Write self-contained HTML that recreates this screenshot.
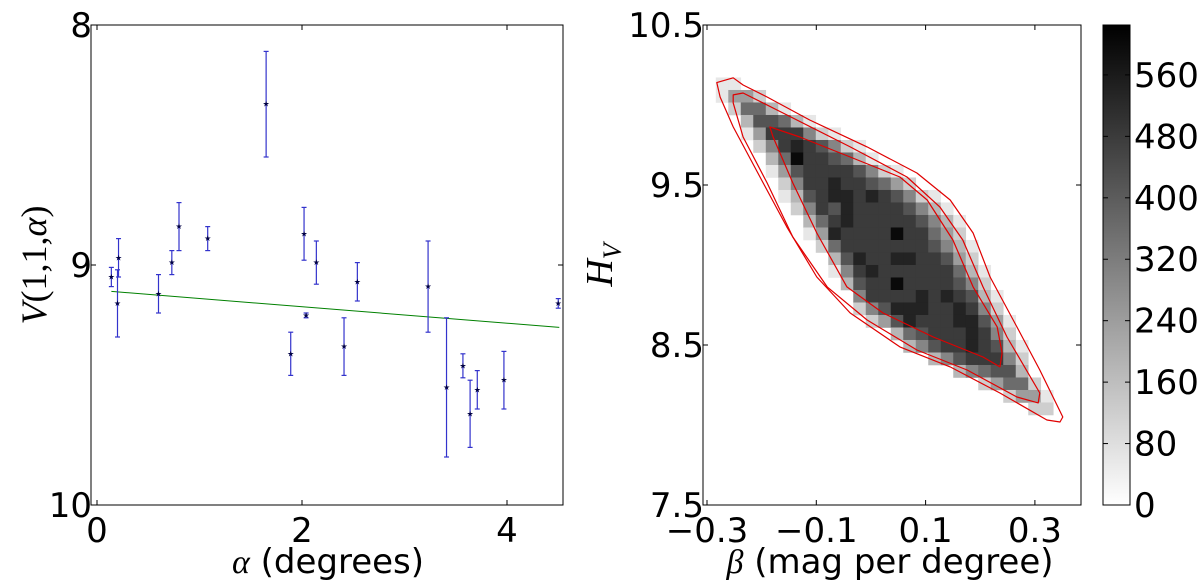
<!DOCTYPE html>
<html><head><meta charset="utf-8">
<style>
html,body{margin:0;padding:0;background:#fff;}
svg{display:block;font-family:"DejaVu Sans","Liberation Sans",sans-serif;}
</style></head>
<body>
<svg id="fig" width="1200" height="582" viewBox="0 0 1200 582" xmlns="http://www.w3.org/2000/svg"></svg>
<script>
// ---------- Left panel data ----------
const alphaVals = [0.14,0.21,0.20,0.60,0.73,0.80,1.08,1.65,1.89,2.02,2.04,2.14,2.41,2.54,3.23,3.41,3.57,3.64,3.71,3.97,4.50];
const vVals     = [9.05,8.97,9.16,9.12,8.99,8.84,8.89,8.33,9.37,8.87,9.21,8.99,9.34,9.07,9.09,9.51,9.42,9.62,9.52,9.48,9.16];
const vErrs     = [0.04,0.08,0.14,0.08,0.05,0.10,0.05,0.22,0.09,0.11,0.01,0.09,0.12,0.08,0.19,0.29,0.05,0.14,0.08,0.12,0.02];
const fitAlpha  = [0.14,4.51];
const fitV      = [9.11,9.26];
const leftXTicks = [0,2,4];
const leftYTicks = [8,9,10];

// ---------- Right panel data ----------
const betaTicks = [-0.3,-0.1,0.1,0.3];
const betaTickLabels = ["\u22120.3","\u22120.1","0.1","0.3"];
const hTicks = [10.5,9.5,8.5,7.5];
const hTickLabels = ["10.5","9.5","8.5","7.5"];
const cbTicks = [0,80,160,240,320,400,480,560];
const binBeta0 = -0.3068, binBetaStep = 0.02287;
const binH0 = 10.172, binHStep = 0.078125;
const rowStart = [1,1,2,3,3,4,5,5,6,6,7,8,8,9,10,10,11,12,12,13,15,16,18,20,22,24,26];
const rowCounts = [
[60,60],
[60,240,240,120],
[120,360,360,180,60],
[180,420,420,360,180,60],
[60,240,480,480,480,300,120,60],
[120,300,480,540,480,420,300,120,60],
[180,360,600,480,480,420,360,180,60],
[60,240,420,480,480,480,480,420,300,120,60],
[120,300,480,480,540,480,480,420,360,240,120],
[60,180,420,480,540,540,480,540,480,420,300,120,60],
[120,300,480,420,540,480,480,480,480,420,300,180,60],
[180,360,480,540,480,480,480,480,480,420,300,180,60],
[60,240,540,480,480,480,480,600,480,480,360,240,120],
[120,360,480,480,480,480,480,480,480,420,300,180,60],
[180,420,540,480,480,540,540,480,480,420,240,120],
[60,300,480,540,480,480,480,480,480,480,360,180,60],
[180,420,480,480,600,480,480,480,480,420,300,120],
[300,480,480,480,480,540,480,540,480,420,180,60],
[120,300,420,540,540,540,480,480,540,480,300,120],
[120,240,420,540,480,480,480,540,540,420,240,60],
[180,360,420,480,480,480,540,480,300,120],
[180,300,420,480,480,540,480,420,180,60],
[180,300,420,480,480,480,300,120],
[180,300,360,420,420,180],
[120,240,360,360,120],
[120,240,240,60],
[120,120]
];
const outerBeta = [-0.282,-0.252,-0.234,-0.190,-0.112,-0.007,0.084,0.145,0.187,0.218,0.267,0.309,0.351,0.346,0.322,0.236,0.145,0.053,-0.038,-0.099,-0.154,-0.203,-0.252,-0.276];
const outerH    = [10.14,10.17,10.125,10.05,9.906,9.738,9.575,9.406,9.2,8.925,8.613,8.344,8.05,8.019,8.031,8.2,8.363,8.488,8.7,8.925,9.238,9.55,9.863,10.05];
const midBeta = [-0.252,-0.234,-0.161,-0.038,0.066,0.126,0.168,0.205,0.249,0.309,0.306,0.267,0.176,0.084,-0.007,-0.080,-0.143,-0.190,-0.234,-0.252];
const midH    = [10.063,10.075,9.95,9.738,9.55,9.363,9.156,8.863,8.55,8.2,8.138,8.175,8.344,8.469,8.656,8.863,9.175,9.513,9.8,10.013];
const inBeta = [-0.185,-0.130,-0.038,0.053,0.103,0.150,0.187,0.231,0.240,0.236,0.205,0.114,0.022,-0.044,-0.099,-0.143,-0.179];
const inH    = [9.863,9.8,9.675,9.55,9.406,9.156,8.863,8.613,8.45,8.363,8.425,8.55,8.7,8.863,9.2,9.513,9.8];

const NS="http://www.w3.org/2000/svg";
const svg=document.getElementById('fig');
function mk(tag,attrs,parent){const e=document.createElementNS(NS,tag);for(const k in attrs)e.setAttribute(k,attrs[k]);(parent||svg).appendChild(e);return e;}
function txt(s,attrs,parent){const e=mk('text',attrs,parent);e.textContent=s;return e;}
const FS=34;

// ---------- Left axes ----------
const L={x0:91,x1:563,y0:25,y1:505};
const lx=a=>97+(a)*102.5;
const ly=v=>L.y0+(v-8)*(L.y1-L.y0)/2;
const gL=mk('g',{});


const fit=mk('line',{x1:lx(fitAlpha[0]),y1:ly(fitV[0]),x2:lx(fitAlpha[1]),y2:ly(fitV[1]),stroke:'#008000','stroke-width':1},gL);


for(let i=0;i<alphaVals.length;i++){
  const g=mk('g',{},gL);
  
  
  const x=lx(alphaVals[i]),yt=ly(vVals[i]-vErrs[i]),yb=ly(vVals[i]+vErrs[i]),y=ly(vVals[i]);
  mk('line',{x1:x,y1:yt,x2:x,y2:yb,stroke:'#3333cc','stroke-width':1.2},g);
  mk('line',{x1:x-2.5,y1:yt,x2:x+2.5,y2:yt,stroke:'#3333cc','stroke-width':1.2},g);
  mk('line',{x1:x-2.5,y1:yb,x2:x+2.5,y2:yb,stroke:'#3333cc','stroke-width':1.2},g);
  txt('\u2605',{x:x,y:y+2.5,'font-size':8,'text-anchor':'middle',fill:'#000044'},g);
}
const lb=mk('rect',{x:L.x0,y:L.y0,width:L.x1-L.x0,height:L.y1-L.y0,fill:'none',stroke:'#000','stroke-width':1},gL);


leftXTicks.forEach(t=>{const x=lx(t);
  mk('line',{x1:x,y1:L.y1,x2:x,y2:L.y1-5,stroke:'#000'},gL);
  mk('line',{x1:x,y1:L.y0,x2:x,y2:L.y0+5,stroke:'#000'},gL);
  const e=txt(String(t),{x:x,y:542,'font-size':FS,'text-anchor':'middle'},gL);
  
  
});
leftYTicks.forEach(t=>{const y=ly(t);
  mk('line',{x1:L.x0,y1:y,x2:L.x0+5,y2:y,stroke:'#000'},gL);
  mk('line',{x1:L.x1,y1:y,x2:L.x1-5,y2:y,stroke:'#000'},gL);
  const e=txt(String(t),{x:92,y:y+12,'font-size':FS,'text-anchor':'end'},gL);
  
  
});
const xl=txt('',{x:328,y:573,'font-size':FS,'text-anchor':'middle'},gL);
xl.innerHTML='<tspan font-family="Liberation Serif" font-style="italic">\u03B1</tspan> (degrees)';


const yl=txt('',{x:0,y:0,'font-size':36,'text-anchor':'middle',transform:'translate(46,265) rotate(-90)','font-family':'Liberation Serif'},gL);
yl.innerHTML='<tspan font-style="italic">V</tspan>(1,1,<tspan font-style="italic">\u03B1</tspan>)';



// ---------- Right axes ----------
const R={x0:703,x1:1081,y0:25,y1:505};
const rx=b=>707+(b+0.3)*546.5;
const ry=h=>25+(10.5-h)*160;
const gR=mk('g',{});


const gray=c=>{const v=Math.round(255*(1-Math.min(c,625)/625));return `rgb(${v},${v},${v})`;};
rowCounts.forEach((row,r)=>{
  row.forEach((c,j)=>{
    const col=rowStart[r]+j;
    const b0=binBeta0+col*binBetaStep, b1=b0+binBetaStep;
    const h0=binH0-r*binHStep, h1=h0-binHStep;
    const cell=mk('rect',{x:rx(b0),y:ry(h0),width:rx(b1)-rx(b0)+0.3,height:ry(h1)-ry(h0)+0.3,fill:gray(c)},gR);
    
    
  });
});
function contour(bs,hs,name){
  const d=bs.map((b,i)=>(i?'L':'M')+rx(b).toFixed(1)+','+ry(hs[i]).toFixed(1)).join(' ')+'Z';
  const p=mk('path',{d:d,fill:'none',stroke:'#e00000','stroke-width':1.2,'stroke-linejoin':'round'},gR);
  
  
}
contour(outerBeta,outerH,'contour-outer');
contour(midBeta,midH,'contour-middle');
contour(inBeta,inH,'contour-inner');
const rb=mk('rect',{x:R.x0,y:R.y0,width:R.x1-R.x0,height:R.y1-R.y0,fill:'none',stroke:'#000','stroke-width':1},gR);


betaTicks.forEach((t,i)=>{const x=rx(t);
  mk('line',{x1:x,y1:R.y1,x2:x,y2:R.y1-5,stroke:'#000'},gR);
  mk('line',{x1:x,y1:R.y0,x2:x,y2:R.y0+5,stroke:'#000'},gR);
  const e=txt(betaTickLabels[i],{x:x,y:542,'font-size':FS,'text-anchor':'middle'},gR);
  
  
});
hTicks.forEach((t,i)=>{const y=ry(t);
  mk('line',{x1:R.x0,y1:y,x2:R.x0+5,y2:y,stroke:'#000'},gR);
  mk('line',{x1:R.x1,y1:y,x2:R.x1-5,y2:y,stroke:'#000'},gR);
  const e=txt(hTickLabels[i],{x:704,y:y+12,'font-size':FS,'text-anchor':'end'},gR);
  
  
});
const xl2=txt('',{x:890,y:573,'font-size':FS,'text-anchor':'middle'},gR);
xl2.innerHTML='<tspan font-family="Liberation Serif" font-style="italic">\u03B2</tspan> (mag per degree)';


const yl2=txt('',{x:0,y:0,'font-size':38,'text-anchor':'middle',transform:'translate(612,265) rotate(-90)','font-family':'Liberation Serif'},gR);
yl2.innerHTML='<tspan font-style="italic">H</tspan><tspan font-style="italic" font-size="26" dy="9">V</tspan>';



// ---------- Colorbar ----------
const CB={x0:1103,x1:1130,y0:25,y1:505};
const cy=v=>CB.y1-v*(CB.y1-CB.y0)/625;
const gC=mk('g',{});


const defs=mk('defs',{},gC);
const lg=mk('linearGradient',{id:'cbg',x1:0,y1:1,x2:0,y2:0},defs);
mk('stop',{offset:0,'stop-color':'#fff'},lg);
mk('stop',{offset:1,'stop-color':'#000'},lg);
mk('rect',{x:CB.x0,y:CB.y0,width:CB.x1-CB.x0,height:CB.y1-CB.y0,fill:'url(#cbg)',stroke:'#000','stroke-width':1},gC);
cbTicks.forEach(t=>{const y=cy(t);
  mk('line',{x1:CB.x1,y1:y,x2:CB.x1-5,y2:y,stroke:'#000'},gC);
  mk('line',{x1:CB.x0,y1:y,x2:CB.x0+5,y2:y,stroke:'#000'},gC);
  const e=txt(String(t),{x:1134,y:y+12,'font-size':FS},gC);
  
  
});
</script>
</body></html>
